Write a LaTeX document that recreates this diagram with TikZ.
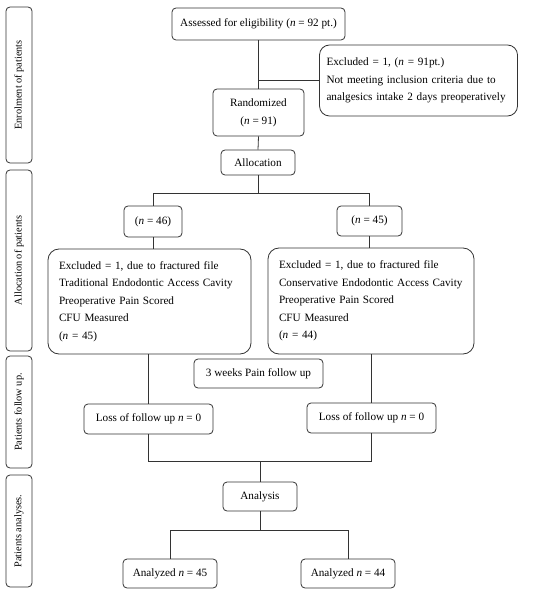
\documentclass[tikz,border=0pt]{standalone}
\usepackage{fontspec}
\setmainfont{Liberation Serif}
\begin{document}
\begin{tikzpicture}[x=1pt,y=-1pt,
  box/.style={draw=black!80, line width=0.8pt, rounded corners=4pt, align=center,
    inner sep=0pt, font=\fontsize{11.2}{17}\selectfont},
  bigbox/.style={draw=black!80, line width=0.8pt, rounded corners=11pt, align=left,
    inner xsep=11pt, inner ysep=0pt, font=\fontsize{11.2}{17.5}\selectfont},
  side/.style={draw=black!80, line width=0.8pt, rounded corners=4pt, rotate=90,
    inner sep=0pt, minimum height=26pt, font=\fontsize{10.3}{12}\selectfont},
  conn/.style={draw=black!80, line width=0.8pt}]
\useasboundingbox (0,0) rectangle (550,593);

% side labels
\node[side, minimum width=156pt] (s1) at (19,85) {Enrolment of patients};
\node[side, minimum width=181pt] (s2) at (19,260.5) {Allocation of patients};
\node[side, minimum width=112pt] (s3) at (19,412) {Patients follow up.};
\node[side, minimum width=112pt] (s4) at (19,531) {Patients analyses.};

% main flow
\node[box, minimum width=173pt, minimum height=32pt] (assess) at (258.5,24)
  {Assessed for eligibility (\textit{n} = 92 pt.)};
\node[bigbox, rounded corners=10pt, text width=184pt, inner xsep=7pt, minimum height=71pt] (excl) at (418.5,80.5)
  {Excluded = 1, (\textit{n} = 91pt.)\\
   \makebox[184pt][s]{Not meeting inclusion criteria due to}\\
   \makebox[184pt][s]{analgesics intake 2 days preoperatively}};
\node[box, minimum width=91pt, minimum height=47pt, font=\fontsize{11.2}{18}\selectfont] (rand) at (258.5,112.5)
  {Randomized\\(\textit{n} = 91)};
\node[box, minimum width=74pt, minimum height=25pt] (alloc) at (258,162.5) {Allocation};
\node[box, minimum width=58pt, minimum height=31pt] (n46) at (153,221.5) {(\textit{n} = 46)};
\node[box, minimum width=65pt, minimum height=30pt] (n45) at (369.5,221) {(\textit{n} = 45)};
\node[bigbox, text width=181pt, minimum height=105pt] (lbig) at (149.5,301.5)
  {Excluded = 1, due to fractured file\\
   Traditional Endodontic Access Cavity\\
   Preoperative Pain Scored\\
   CFU Measured\\
   (\textit{n} = 45)};
\node[bigbox, text width=184pt, minimum height=106pt] (rbig) at (371,301)
  {Excluded = 1, due to fractured file\\
   Conservative Endodontic Access Cavity\\
   Preoperative Pain Scored\\
   CFU Measured\\
   (\textit{n} = 44)};
\node[box, minimum width=129pt, minimum height=29pt] (weeks) at (258.5,373.5) {3 weeks Pain follow up};
\node[box, minimum width=129pt, minimum height=30pt] (lossl) at (148.5,419) {Loss of follow up \textit{n} = 0};
\node[box, minimum width=129pt, minimum height=30pt] (lossr) at (371.5,418) {Loss of follow up \textit{n} = 0};
\node[box, minimum width=74pt, minimum height=29pt] (anal) at (260,496.5) {Analysis};
\node[box, minimum width=94pt, minimum height=29pt] (a45) at (170,573.5) {Analyzed \textit{n} = 45};
\node[box, minimum width=94pt, minimum height=29pt] (a44) at (348,573.5) {Analyzed \textit{n} = 44};

% connectors
\coordinate (j1) at (258.5,80);
\draw[conn] (assess.south) -- (rand.north);
\draw[conn] (j1) -- (excl.west |- j1);
\draw[conn] (rand.south) -- (alloc.north);
\coordinate (j2) at (258,193);
\draw[conn] (alloc.south) -- (j2);
\draw[conn] (n46.north) -- (n46.north |- j2) -- (n45.north |- j2) -- (n45.north);
\draw[conn] (n46.south) -- (lbig.north -| n46.south);
\draw[conn] (n45.south) -- (rbig.north -| n45.south);
\draw[conn] (lossl.north |- lbig.south) -- (lossl.north);
\draw[conn] (lossr.north |- rbig.south) -- (lossr.north);
\coordinate (j3) at (260,461);
\draw[conn] (lossl.south) -- (lossl.south |- j3) -- (lossr.south |- j3) -- (lossr.south);
\draw[conn] (j3) -- (anal.north);
\coordinate (j4) at (260,530);
\draw[conn] (anal.south) -- (j4);
\draw[conn] (a45.north) -- (a45.north |- j4) -- (a44.north |- j4) -- (a44.north);
\end{tikzpicture}
\end{document}
